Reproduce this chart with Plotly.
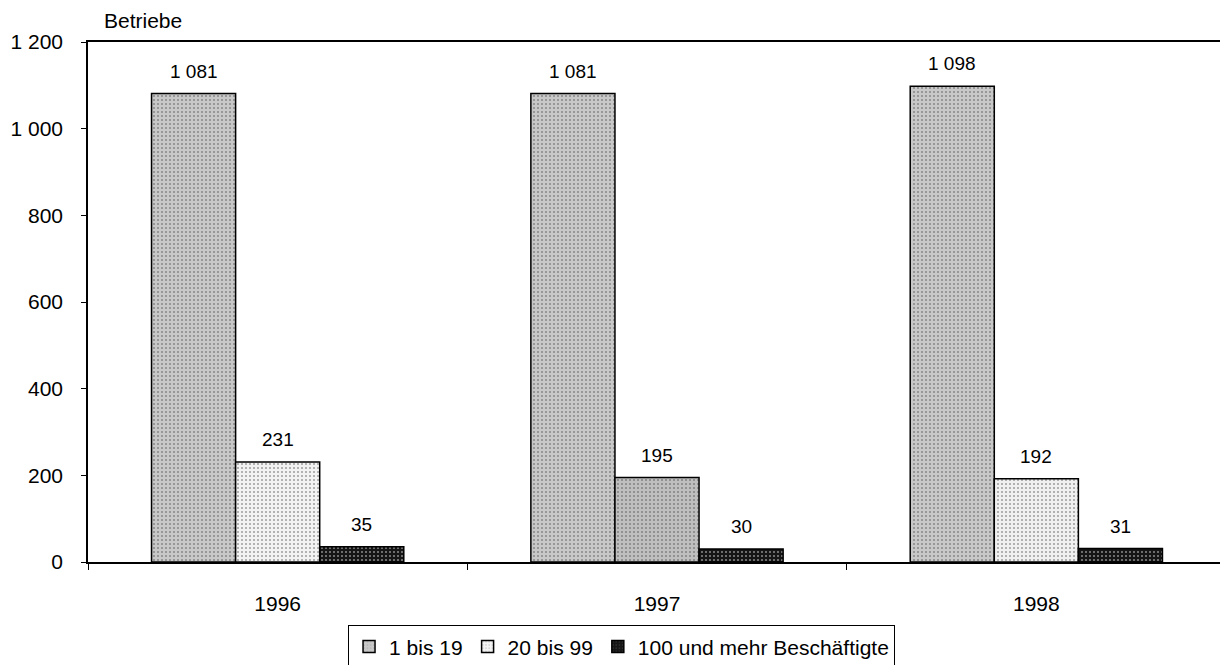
import plotly.graph_objects as go

categories = ["1996", "1997", "1998"]
series_names = ["1 bis 19", "20 bis 99", "100 und mehr Beschäftigte"]
values_1_19 = [1081, 1081, 1098]
values_20_99 = [231, 195, 192]
values_100 = [35, 30, 31]
labels_1_19 = ["1 081", "1 081", "1 098"]
labels_20_99 = ["231", "195", "192"]
labels_100 = ["35", "30", "31"]
y_tickvals = [0, 200, 400, 600, 800, 1000, 1200]
y_ticktext = ["0", "200", "400", "600", "800", "1 000", "1 200"]
y_title = "Betriebe"

FONT = "Liberation Sans, Arial, sans-serif"
series_values = [values_1_19, values_20_99, values_100]
series_labels = [labels_1_19, labels_20_99, labels_100]
colors = [
    ["#c8c8c8", "#c8c8c8", "#c8c8c8"],
    ["#f3f3f3", "#bfbfbf", "#f0f0f0"],
    ["#161616", "#161616", "#161616"],
]
pattern_fg = ["#9a9a9a", "#a8a8a8", "#505050"]

fig = go.Figure()
for name, vals, cols, pfg in zip(series_names, series_values, colors, pattern_fg):
    fig.add_trace(go.Bar(
        name=name, x=categories, y=vals,
        marker=dict(color=cols, line=dict(color="black", width=1.5),
                    pattern=dict(shape=".", fgcolor=pfg, size=4, solidity=0.2)),
    ))

W, H = 1220, 657
left, right, top, bottom = 80, 2, 34, 103
plot_w = W - left - right
bargap = 0.335
bar_px = plot_w / len(categories) * (1 - bargap) / 3

annotations = []
for i, (vals, labs) in enumerate(zip(series_values, series_labels)):
    for j, (v, lab) in enumerate(zip(vals, labs)):
        annotations.append(dict(
            x=j, y=v, xref="x", yref="y", text=lab, showarrow=False,
            xshift=(i - 1) * bar_px, yshift=10, yanchor="bottom",
            font=dict(family=FONT, size=19, color="black"),
        ))
annotations.append(dict(
    x=0.0123, y=1.042, xref="paper", yref="paper", text=y_title, showarrow=False,
    xanchor="left", yanchor="middle", font=dict(family=FONT, size=21, color="black"),
))

fig.update_layout(
    width=W, height=H,
    margin=dict(l=left, r=right, t=top, b=bottom, autoexpand=False),
    paper_bgcolor="white", plot_bgcolor="white",
    barmode="group", bargap=bargap, bargroupgap=0,
    font=dict(family=FONT, size=21, color="black"),
    annotations=annotations,
    legend=dict(
        orientation="h", x=0.2285, y=-0.122, xanchor="left", yanchor="top",
        bordercolor="black", borderwidth=1, bgcolor="white",
        font=dict(family=FONT, size=21, color="black"),
        itemwidth=30, tracegroupgap=0,
    ),
)
fig.update_xaxes(
    type="category", range=[-0.5, len(categories) - 0.5],
    showline=True, linecolor="black", linewidth=1.5, mirror=True,
    ticks="outside", ticklen=6, tickcolor="black", tickson="boundaries",
    showgrid=False, ticklabelstandoff=22, tickangle=0,
)
fig.update_yaxes(
    range=[0, 1200], tickvals=y_tickvals, ticktext=y_ticktext,
    showline=True, linecolor="black", linewidth=1.5, mirror=True,
    ticks="outside", ticklen=5, tickcolor="black", showgrid=False,
    zeroline=False, ticklabelstandoff=14,
)

fig.write_html("out.html")
